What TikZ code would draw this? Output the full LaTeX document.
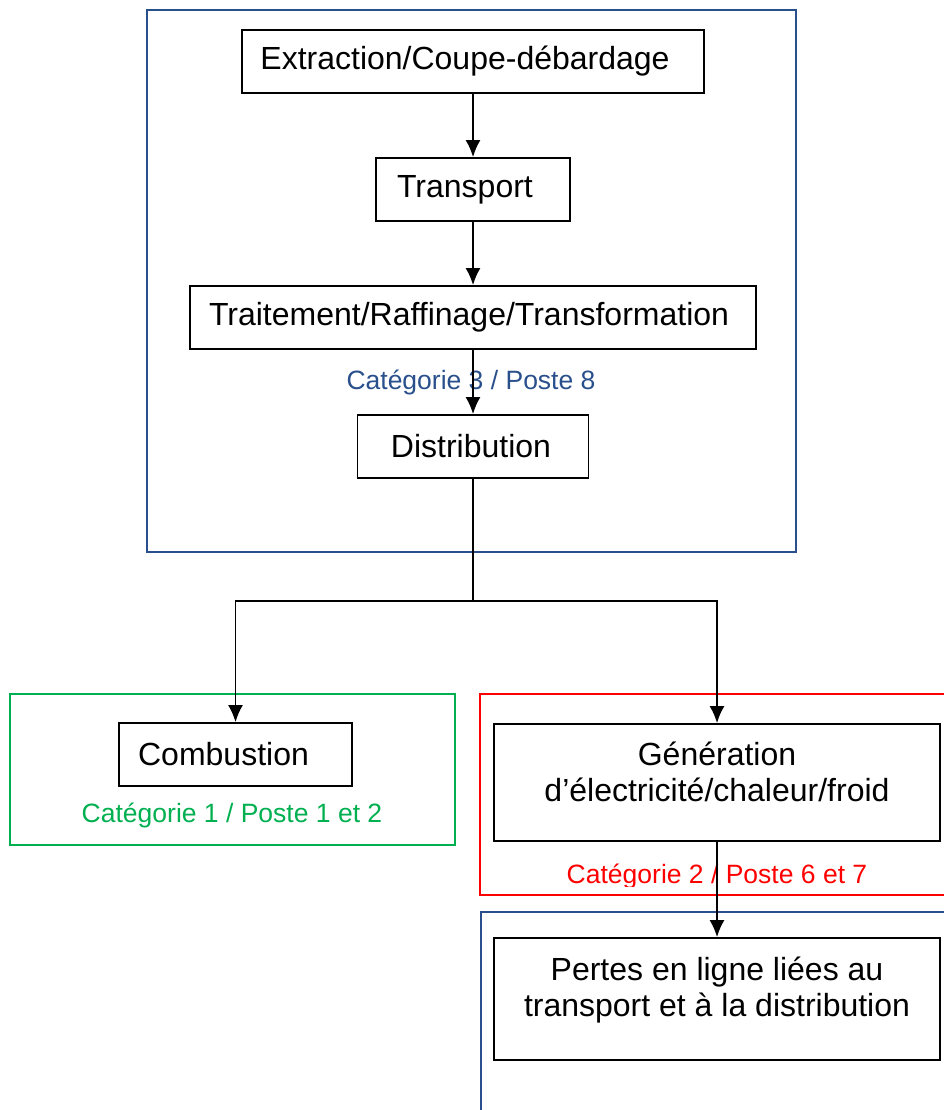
\documentclass[tikz,border=0pt]{standalone}
\usepackage{fontspec}
\setmainfont{Liberation Sans}
\usetikzlibrary{arrows.meta}
\definecolor{catblue}{RGB}{41,80,140}
\definecolor{catgreen}{RGB}{0,176,80}
\definecolor{catred}{RGB}{255,0,0}
\begin{document}
\begin{tikzpicture}[x=1pt,y=-1pt,
	box/.style={draw,line width=1.8pt,inner sep=0pt,minimum height=63pt,align=center,font=\fontsize{32}{36}\selectfont},
	cat/.style={font=\fontsize{26.5}{30}\selectfont},
	frame/.style={line width=1.4pt},
	arr/.style={-{Latex[length=17pt,width=15pt]},line width=1.8pt}]
				\useasboundingbox (0,0) rectangle (943,1110);

				% Categorie 3
				\draw[frame,catblue] (147,10) rectangle (796,552);
				\node (Extraction) [box,minimum width=462pt] at (473,61.5) {Extraction/Coupe-débardage\hspace{16pt}};
				\node (Transport) [box,minimum width=194pt] at (473,189.5) {Transport\hspace{16pt}};
				\draw[arr] (Extraction) -- (Transport);

				\node (Traitement) [box,minimum width=566pt] at (473,317.5) {Traitement/Raffinage/Transformation\hspace{8pt}};
				\draw[arr] (Transport) -- (Traitement);

				\node (Cat3) [cat,text=catblue] at (471,382) {Catégorie 3 / Poste 8};
				\node (Distribution) [box,minimum width=231pt] at (473,446.5) {Distribution\hspace{4pt}};
				\draw[arr] (Traitement) -- (Distribution);

				\coordinate (Split) at (473,601);
				\draw[line width=1.8pt] (Distribution) -- (Split);

				% Categorie 1
				\draw[frame,catgreen] (10,694) rectangle (455,845);
				\node (Combustion) [box,minimum width=233pt] at (235.5,754.5) {Combustion\hspace{24pt}};
				\node (Cat1) [cat,text=catgreen] at (232,815) {Catégorie 1 / Poste 1 et 2};
				\draw[arr] (Split) -| (Combustion);

				% Categorie 2
				\draw[frame,catred] (480,694) rectangle (950,895);
				\node (Generation) [box,minimum width=446pt,minimum height=117pt] at (717,782.5) {Génération\\d’électricité/chaleur/froid\\[-14pt]\mbox{}};
				\begin{scope}
					\clip (480,850) rectangle (943,886);
					\node (Cat2) [cat,text=catred] at (717,876) {Catégorie 2 / Poste 6 et 7};
				\end{scope}
				\draw[arr] (Split) -| (Generation);

				% Pertes
				\draw[frame,catblue] (481,912) rectangle (950,1120);
				\node (Pertes) [box,minimum width=446pt,minimum height=122pt] at (717,999) {Pertes en ligne liées au\\transport et à la distribution\\[-12pt]\mbox{}};
				\draw[arr] (Generation) -- (Pertes);
\end{tikzpicture}
\end{document}
